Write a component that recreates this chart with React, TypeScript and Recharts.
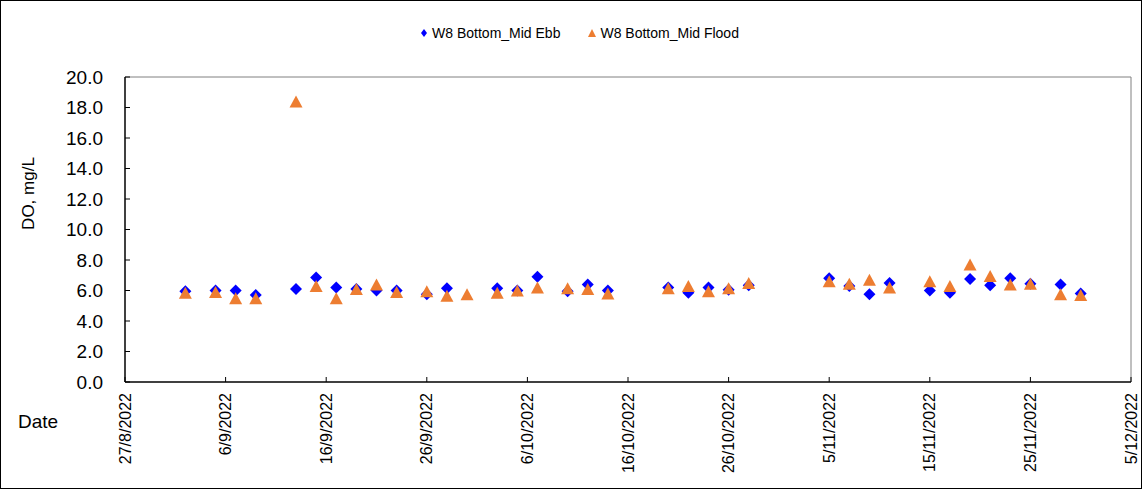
import {
  ScatterChart,
  Scatter,
  XAxis,
  YAxis,
  Legend,
  ReferenceLine,
} from 'recharts';

// sampling dates (d/m/yyyy) and DO readings, mg/L
const ebbDates = [
  '2/9/2022', '5/9/2022', '7/9/2022', '9/9/2022', '13/9/2022', '15/9/2022',
  '17/9/2022', '19/9/2022', '21/9/2022', '23/9/2022', '26/9/2022', '28/9/2022',
  '3/10/2022', '5/10/2022', '7/10/2022', '10/10/2022', '12/10/2022', '14/10/2022',
  '20/10/2022', '22/10/2022', '24/10/2022', '26/10/2022', '28/10/2022',
  '5/11/2022', '7/11/2022', '9/11/2022', '11/11/2022', '15/11/2022', '17/11/2022',
  '19/11/2022', '21/11/2022', '23/11/2022', '25/11/2022', '28/11/2022', '30/11/2022',
];
const ebbValues = [
  5.95, 6.0, 6.0, 5.7, 6.1, 6.85,
  6.2, 6.1, 6.0, 6.0, 5.75, 6.15,
  6.15, 6.0, 6.9, 5.95, 6.4, 6.0,
  6.2, 5.85, 6.2, 6.05, 6.35,
  6.8, 6.3, 5.75, 6.5, 6.0, 5.85,
  6.75, 6.35, 6.8, 6.45, 6.4, 5.8,
];

const floodDates = [
  '2/9/2022', '5/9/2022', '7/9/2022', '9/9/2022', '13/9/2022', '15/9/2022',
  '17/9/2022', '19/9/2022', '21/9/2022', '23/9/2022', '26/9/2022', '28/9/2022',
  '30/9/2022', '3/10/2022', '5/10/2022', '7/10/2022', '10/10/2022', '12/10/2022',
  '14/10/2022', '20/10/2022', '22/10/2022', '24/10/2022', '26/10/2022', '28/10/2022',
  '5/11/2022', '7/11/2022', '9/11/2022', '11/11/2022', '15/11/2022', '17/11/2022',
  '19/11/2022', '21/11/2022', '23/11/2022', '25/11/2022', '28/11/2022', '30/11/2022',
];
const floodValues = [
  5.85, 5.9, 5.5, 5.5, 18.4, 6.3,
  5.5, 6.1, 6.4, 5.9, 5.95, 5.65,
  5.75, 5.85, 6.0, 6.2, 6.15, 6.1,
  5.8, 6.15, 6.3, 5.95, 6.15, 6.5,
  6.6, 6.45, 6.7, 6.2, 6.6, 6.3,
  7.7, 6.95, 6.4, 6.45, 5.75, 5.7,
];

const xTickLabels = [
  '27/8/2022', '6/9/2022', '16/9/2022', '26/9/2022', '6/10/2022', '16/10/2022',
  '26/10/2022', '5/11/2022', '15/11/2022', '25/11/2022', '5/12/2022',
];
const yTicks = [0, 2, 4, 6, 8, 10, 12, 14, 16, 18, 20];

const EBB_COLOR = '#0000FF';
const FLOOD_COLOR = '#ED7D31';
const FONT = '"Liberation Sans", Arial, sans-serif';

const toTime = (s: string) => {
  const [d, m, y] = s.split('/').map(Number);
  return Date.UTC(y, m - 1, d);
};
const fmtDate = (v: number) => {
  const dt = new Date(v);
  return `${dt.getUTCDate()}/${dt.getUTCMonth() + 1}/${dt.getUTCFullYear()}`;
};

const xTicks = xTickLabels.map(toTime);
const ebbData = ebbDates.map((d, i) => ({ x: toTime(d), y: ebbValues[i] }));
const floodData = floodDates.map((d, i) => ({ x: toTime(d), y: floodValues[i] }));

const Diamond = ({ cx, cy, r = 6 }: any) => (
  <polygon
    points={`${cx},${cy - r} ${cx + r},${cy} ${cx},${cy + r} ${cx - r},${cy}`}
    fill={EBB_COLOR}
  />
);

const Triangle = ({ cx, cy, w = 13, h = 12 }: any) => (
  <polygon
    points={`${cx},${cy - h / 2} ${cx + w / 2},${cy + h / 2} ${cx - w / 2},${cy + h / 2}`}
    fill={FLOOD_COLOR}
  />
);

// y tick: label left of axis, short tick pointing into the plot
const YTick = ({ x, y, payload }: any) => {
  const axisX = x + 6 + 16;
  return (
    <g>
      <line x1={axisX} x2={axisX + 5} y1={y} y2={y} stroke="#000" />
      <text x={x} y={y} dy="0.35em" textAnchor="end" fontSize={19} fill="#000" fontFamily={FONT}>
        {Number(payload.value).toFixed(1)}
      </text>
    </g>
  );
};

const XTick = ({ x, y, payload }: any) => {
  const axisY = y - 6 - 5;
  return (
    <g>
      <line x1={x} x2={x} y1={axisY} y2={axisY - 5} stroke="#000" />
      <text
        x={x}
        y={y}
        dy="0.35em"
        textAnchor="end"
        transform={`rotate(-90, ${x}, ${y})`}
        fontSize={16}
        fill="#000"
        fontFamily={FONT}
      >
        {fmtDate(payload.value)}
      </text>
    </g>
  );
};

const LegendContent = () => (
  <div
    style={{
      display: 'flex',
      justifyContent: 'center',
      gap: 28,
      fontFamily: FONT,
      fontSize: 14,
      color: '#000',
      paddingLeft: 17,
    }}
  >
    <span style={{ display: 'flex', alignItems: 'center', gap: 4 }}>
      <svg width={8} height={8}>
        <polygon points="4,0 7,4 4,8 1,4" fill={EBB_COLOR} />
      </svg>
      W8 Bottom_Mid Ebb
    </span>
    <span style={{ display: 'flex', alignItems: 'center', gap: 4 }}>
      <svg width={8} height={8}>
        <polygon points="4,0 8,8 0,8" fill={FLOOD_COLOR} />
      </svg>
      W8 Bottom_Mid Flood
    </span>
  </div>
);

export default function App() {
  return (
    <div
      style={{
        position: 'absolute',
        left: 0,
        top: 0,
        width: 1142,
        height: 489,
        boxSizing: 'border-box',
        border: '1px solid #000',
        background: '#fff',
        fontFamily: FONT,
      }}
    >
      <ScatterChart
        width={1140}
        height={487}
        margin={{ top: 76, right: 10, bottom: 0, left: 0 }}
      >
        <XAxis
          type="number"
          dataKey="x"
          domain={[xTicks[0], xTicks[xTicks.length - 1]]}
          ticks={xTicks}
          interval={0}
          height={106}
          tickSize={6}
          tickMargin={5}
          tickLine={false}
          axisLine={{ stroke: '#000', strokeWidth: 1.5 }}
          tick={<XTick />}
          label={{
            content: ({ viewBox }: any) => (
              <text
                x={17}
                y={viewBox.y + 46}
                fontSize={19}
                fill="#000"
                fontFamily={FONT}
              >
                Date
              </text>
            ),
          }}
        />
        <YAxis
          type="number"
          dataKey="y"
          domain={[0, 20]}
          ticks={yTicks}
          interval={0}
          width={124}
          tickSize={6}
          tickMargin={16}
          tickLine={false}
          axisLine={{ stroke: '#000', strokeWidth: 1.5 }}
          tick={<YTick />}
          label={{
            content: ({ viewBox }: any) => {
              const cx = 27;
              const cy = viewBox.y + viewBox.height / 2 - 36;
              return (
                <text
                  x={cx}
                  y={cy}
                  dy="0.35em"
                  textAnchor="middle"
                  transform={`rotate(-90, ${cx}, ${cy})`}
                  fontSize={17}
                  fill="#000"
                  fontFamily={FONT}
                >
                  DO, mg/L
                </text>
              );
            },
          }}
        />
        <ReferenceLine y={20} stroke="#808080" />
        <ReferenceLine x={xTicks[xTicks.length - 1]} stroke="#808080" />
        <Legend
          layout="horizontal"
          verticalAlign="middle"
          align="center"
          wrapperStyle={{ top: 24, left: 0, width: 1140 }}
          content={<LegendContent />}
        />
        <Scatter
          name="W8 Bottom_Mid Ebb"
          data={ebbData}
          fill={EBB_COLOR}
          shape={(p: any) => <Diamond cx={p.cx} cy={p.cy} />}
          isAnimationActive={false}
        />
        <Scatter
          name="W8 Bottom_Mid Flood"
          data={floodData}
          fill={FLOOD_COLOR}
          shape={(p: any) => <Triangle cx={p.cx} cy={p.cy} />}
          isAnimationActive={false}
        />
      </ScatterChart>
    </div>
  );
}
